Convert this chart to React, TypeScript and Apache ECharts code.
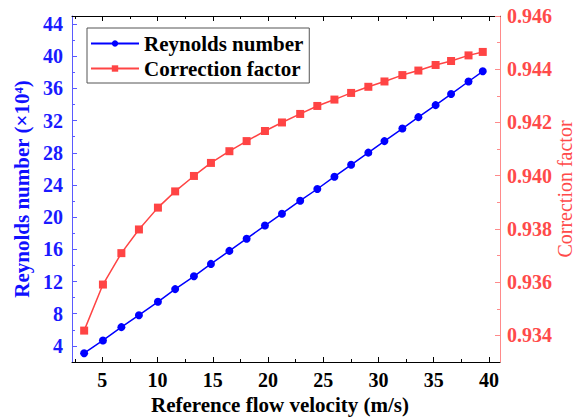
import React, { useEffect, useRef } from "react";
import * as echarts from "echarts";

const velocity = [3.35, 5.05, 6.72, 8.31, 10.03, 11.59, 13.29, 14.83, 16.5, 18.06, 19.72, 21.26, 22.91, 24.46, 26.01, 27.52, 29.08, 30.54, 32.16, 33.61, 35.17, 36.57, 38.15, 39.44];
const reynolds = [3.09, 4.68, 6.33, 7.82, 9.48, 11.06, 12.65, 14.19, 15.81, 17.32, 18.96, 20.43, 22.05, 23.5, 25.03, 26.51, 28.02, 29.45, 31.01, 32.43, 33.92, 35.3, 36.86, 38.13];
const correction = [0.93418, 0.93591, 0.93709, 0.93798, 0.9388, 0.93941, 0.93999, 0.94048, 0.94092, 0.9413, 0.94168, 0.942, 0.94232, 0.94262, 0.94286, 0.94311, 0.94334, 0.94354, 0.94378, 0.94395, 0.94416, 0.94431, 0.94452, 0.94465];

const xMajor = [5, 10, 15, 20, 25, 30, 35, 40];
const xMinor = [2.5, 7.5, 12.5, 17.5, 22.5, 27.5, 32.5, 37.5];
const yLeftMajor = [4, 8, 12, 16, 20, 24, 28, 32, 36, 40, 44];
const yLeftMinor = [6, 10, 14, 18, 22, 26, 30, 34, 38, 42];
const yRightMajor = [0.934, 0.936, 0.938, 0.94, 0.942, 0.944, 0.946];
const yRightMinor = [0.935, 0.937, 0.939, 0.941, 0.943, 0.945];

const FONT = "'Liberation Serif', 'Times New Roman', serif";
const BLUE = "#0000ff";
const RED = "#ff4444";

export default function App() {
  const ref = useRef<HTMLDivElement>(null);
  useEffect(() => {
    document.body.style.margin = "0";
    document.documentElement.style.overflow = "hidden";
    document.body.style.overflow = "hidden";
    const chart = echarts.init(ref.current!, null, { renderer: "svg", width: 576, height: 419 });
    const xRange = { min: 2.25, max: 41 };
    const yLRange = { min: 2, max: 45 };
    const yRRange = { min: 0.933, max: 0.946 };
    const hidden = { show: false };
    chart.setOption({
      animation: false,
      backgroundColor: "#ffffff",
      textStyle: { fontFamily: FONT },
      grid: { left: 72, right: 76, top: 16, bottom: 57, containLabel: false, outerBoundsMode: "none" },
      legend: {
        left: 87,
        top: 28,
        orient: "vertical",
        padding: [5, 6, 4, 3],
        borderColor: "#555",
        borderWidth: 1,
        itemWidth: 48,
        itemHeight: 8,
        itemGap: 4,
        textStyle: { fontFamily: FONT, fontSize: 21, fontWeight: "bold", color: "#000", lineHeight: 21 },
        data: ["Reynolds number", "Correction factor"],
      },
      xAxis: [
        {
          type: "value", position: "bottom", ...xRange,
          name: "Reference flow velocity (m/s)", nameLocation: "middle", nameGap: 32,
          nameTextStyle: { fontFamily: FONT, fontSize: 21, fontWeight: "bold", color: "#000", padding: [0, 12, 0, 0] },
          axisLine: { show: true, onZero: false, lineStyle: { color: "#000", width: 1 } },
          axisTick: { show: true, inside: true, length: 5, customValues: xMajor, lineStyle: { color: "#000" } },
          axisLabel: { customValues: xMajor, margin: 8, fontFamily: FONT, fontSize: 20, fontWeight: "bold", color: "#000" },
          splitLine: hidden,
        },
        {
          type: "value", position: "bottom", ...xRange,
          axisLine: hidden,
          axisTick: { show: true, inside: true, length: 3, customValues: xMinor, lineStyle: { color: "#000" } },
          axisLabel: hidden, splitLine: hidden,
        },
        {
          type: "value", position: "top", ...xRange,
          axisLine: { show: true, onZero: false, lineStyle: { color: "#000", width: 1 } },
          axisTick: { show: true, inside: true, length: 5, customValues: xMajor, lineStyle: { color: "#000" } },
          axisLabel: hidden, splitLine: hidden,
        },
        {
          type: "value", position: "top", ...xRange,
          axisLine: hidden,
          axisTick: { show: true, inside: true, length: 3, customValues: xMinor, lineStyle: { color: "#000" } },
          axisLabel: hidden, splitLine: hidden,
        },
      ],
      yAxis: [
        {
          type: "value", position: "left", ...yLRange,
          name: "Reynolds number (×10⁴)", nameLocation: "middle", nameGap: 36,
          nameTextStyle: { fontFamily: FONT, fontSize: 21, fontWeight: "bold", color: "#1010ff" },
          axisLine: { show: true, onZero: false, lineStyle: { color: "#5a5aff", width: 1 } },
          axisTick: { show: true, inside: true, length: 5, customValues: yLeftMajor, lineStyle: { color: "#5a5aff" } },
          axisLabel: { customValues: yLeftMajor, margin: 9, fontFamily: FONT, fontSize: 20, fontWeight: "bold", color: "#1a1aff" },
          splitLine: hidden,
        },
        {
          type: "value", position: "right", ...yRRange,
          name: "Correction factor", nameLocation: "middle", nameGap: 55, nameMoveOverlap: false,
          nameTextStyle: { fontFamily: FONT, fontSize: 20, color: "#ff4a4a" },
          axisLine: { show: true, onZero: false, lineStyle: { color: "#ff8a8a", width: 1 } },
          axisTick: { show: true, inside: true, length: 5, customValues: yRightMajor, lineStyle: { color: "#ff8a8a" } },
          axisLabel: {
            customValues: yRightMajor, margin: 7, fontFamily: FONT, fontSize: 20, fontWeight: "bold", color: "#ff4a4a",
            formatter: (v: number) => v.toFixed(3),
          },
          splitLine: hidden,
        },
        {
          type: "value", position: "left", ...yLRange,
          axisLine: hidden,
          axisTick: { show: true, inside: true, length: 3, customValues: yLeftMinor, lineStyle: { color: "#5a5aff" } },
          axisLabel: hidden, splitLine: hidden,
        },
        {
          type: "value", position: "right", ...yRRange,
          axisLine: hidden,
          axisTick: { show: true, inside: true, length: 3, customValues: yRightMinor, lineStyle: { color: "#ff8a8a" } },
          axisLabel: hidden, splitLine: hidden,
        },
      ],
      series: [
        {
          name: "Reynolds number", type: "line", xAxisIndex: 0, yAxisIndex: 0,
          data: velocity.map((v, i) => [v, reynolds[i]]),
          symbol: "circle", symbolSize: 8,
          lineStyle: { color: BLUE, width: 1.5 },
          itemStyle: { color: BLUE },
        },
        {
          name: "Correction factor", type: "line", xAxisIndex: 0, yAxisIndex: 1,
          data: velocity.map((v, i) => [v, correction[i]]),
          symbol: "rect", symbolSize: 8,
          lineStyle: { color: RED, width: 1.5 },
          itemStyle: { color: RED },
        },
      ],
    });
    return () => chart.dispose();
  }, []);
  return <div ref={ref} style={{ width: 576, height: 419, position: "absolute", left: 0, top: 0 }} />;
}
